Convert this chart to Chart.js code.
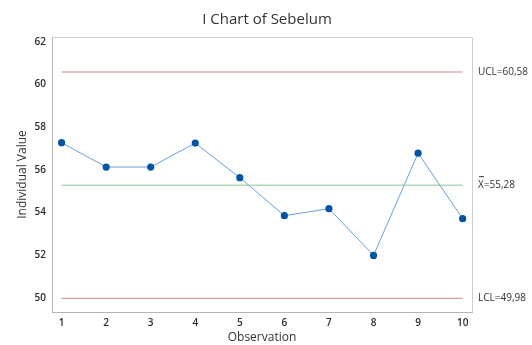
<!DOCTYPE html>
<html>
<head>
<meta charset="utf-8">
<script src="https://cdn.jsdelivr.net/npm/chart.js@4.4.0/dist/chart.umd.min.js"></script>
<style>
  html, body { margin: 0; padding: 0; background: #fff; }
  #wrap { width: 532px; height: 345px; position: relative; }
</style>
</head>
<body>
<div id="wrap"><canvas id="iChart"></canvas></div>
<script>
// I chart data
const observations = [1, 2, 3, 4, 5, 6, 7, 8, 9, 10];
const values = [57.27, 56.13, 56.13, 57.25, 55.63, 53.85, 54.18, 51.99, 56.78, 53.71];
const ucl = 60.58;
const centerLine = 55.28;
const lcl = 49.98;
const yTicks = [50, 52, 54, 56, 58, 60, 62];
const limitLabels = ['UCL=60,58', 'X=55,28', 'LCL=49,98'];

const textColor = '#2b2b2b';
const fontFamily = '"Open Sans", "Noto Sans", sans-serif';

const hLine = (v) => [{ x: observations[0], y: v }, { x: observations[observations.length - 1], y: v }];

// Title, frame and right-side limit labels
const decorPlugin = {
    id: 'decor',
    afterDraw: (chart) => {
        const { ctx, chartArea } = chart;
        const yScale = chart.scales.y;
        ctx.save();

        // frame top + right
        ctx.strokeStyle = '#d0d0d0';
        ctx.lineWidth = 1;
        ctx.beginPath();
        ctx.moveTo(chartArea.left, chartArea.top + 0.5);
        ctx.lineTo(chartArea.right + 0.5, chartArea.top + 0.5);
        ctx.lineTo(chartArea.right + 0.5, chartArea.bottom);
        ctx.stroke();

        // title
        ctx.fillStyle = '#333333';
        ctx.font = '15px ' + fontFamily;
        ctx.textAlign = 'center';
        ctx.textBaseline = 'middle';
        ctx.fillText('I Chart of Sebelum', 267, 20);

        // limit labels
        ctx.font = '10px ' + fontFamily;
        ctx.textAlign = 'left';
        const x = chartArea.right + 6;
        [ucl, centerLine, lcl].forEach((v, i) => {
            const y = yScale.getPixelForValue(v);
            ctx.fillText(limitLabels[i], x, y);
            if (i === 1) {
                // bar over the X
                ctx.fillRect(x + 1, y - 9, 5, 1);
            }
        });
        ctx.restore();
    }
};

new Chart(document.getElementById('iChart'), {
    type: 'line',
    data: {
        datasets: [
            {
                label: 'Sebelum',
                data: observations.map((o, i) => ({ x: o, y: values[i] })),
                borderColor: '#6b9fd4',
                borderWidth: 1,
                pointBackgroundColor: '#0054a6',
                pointBorderColor: '#0054a6',
                pointRadius: 3.6,
                pointBorderWidth: 0,
                tension: 0
            },
            { label: 'UCL', data: hLine(ucl), borderColor: '#d08a8a', borderWidth: 1, pointRadius: 0 },
            { label: 'Mean', data: hLine(centerLine), borderColor: '#8cc48c', borderWidth: 1, pointRadius: 0 },
            { label: 'LCL', data: hLine(lcl), borderColor: '#d08a8a', borderWidth: 1, pointRadius: 0 }
        ].reverse()
    },
    options: {
        responsive: true,
        maintainAspectRatio: false,
        animation: false,
        layout: { padding: { left: 0, right: 60, top: 37, bottom: 0 } },
        plugins: {
            legend: { display: false },
            tooltip: { enabled: false }
        },
        scales: {
            x: {
                type: 'linear',
                min: 0.785,
                max: 10.21,
                afterBuildTicks: (scale) => { scale.ticks = observations.map(v => ({ value: v })); },
                afterFit: (scale) => { scale.height = 33; },
                grid: { display: false, drawTicks: true, tickLength: 4, tickColor: '#b8b8b8' },
                border: { color: '#b4b4b4' },
                ticks: { color: textColor, font: { family: fontFamily, size: 10, weight: '600' }, padding: 1, maxRotation: 0, autoSkip: false },
                title: { display: true, text: 'Observation', color: '#333333', font: { family: fontFamily, size: 12 }, padding: { top: 0, bottom: 0 } }
            },
            y: {
                min: 49.34,
                max: 62.22,
                afterBuildTicks: (scale) => { scale.ticks = yTicks.map(v => ({ value: v })); },
                afterFit: (scale) => { scale.width = 52; },
                grid: { display: false, drawTicks: true, tickLength: 4, tickColor: '#b8b8b8' },
                border: { color: '#b4b4b4' },
                ticks: { color: textColor, font: { family: fontFamily, size: 10, weight: '600' }, padding: 2 },
                title: { display: true, text: 'Individual Value', color: '#333333', font: { family: fontFamily, size: 12 }, padding: { top: 15, bottom: 0 } }
            }
        }
    },
    plugins: [decorPlugin]
});
</script>
</body>
</html>
